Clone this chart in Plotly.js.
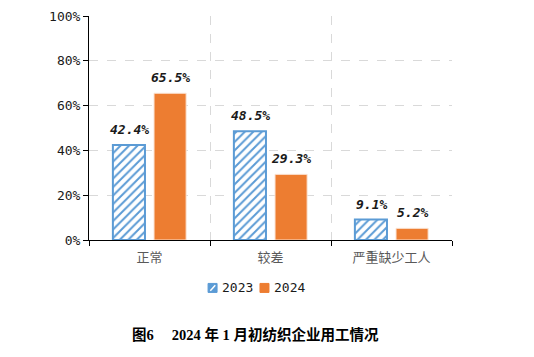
<!DOCTYPE html>
<html>
<head>
<meta charset="utf-8">
<script src="https://cdn.plot.ly/plotly-3.0.1.min.js"></script>
<style>html,body{margin:0;padding:0;background:#fff;}#chart{width:534px;height:357px;}</style>
</head>
<body>
<div id="chart"></div>
<script>
const categories = ['正常', '较差', '严重缺少工人'];
const values2023 = [42.4, 48.5, 9.1];
const values2024 = [65.5, 29.3, 5.2];
const seriesNames = ['2023', '2024'];
const yTickVals = [0, 20, 40, 60, 80, 100];
const yTickText = ['0%', '20%', '40%', '60%', '80%', '100%'];
const captionText = '图6　 2024 年 1 月初纺织企业用工情况';

const monoFont = 'DejaVu Sans Mono, monospace';
const blue = '#5B9BD5';
const orange = '#ED7D31';
const labelFont = {family: monoFont, size: 13, color: '#1a1a1a', weight: 'bold', style: 'italic'};

const traces = [
  {
    type: 'bar', name: seriesNames[0], x: categories, y: values2023,
    marker: {
      color: '#ffffff',
      line: {color: blue, width: 2},
      pattern: {shape: '/', fgcolor: blue, bgcolor: '#ffffff', size: 6, solidity: 0.33}
    },
    hoverinfo: 'skip', showlegend: false
  },
  {
    type: 'bar', name: seriesNames[1], x: categories, y: values2024,
    marker: {color: orange, line: {color: '#fbe3d3', width: 1}},
    hoverinfo: 'skip', showlegend: false
  }
];

// value labels built from the data arrays
const annotations = [];
[values2023, values2024].forEach((vals, s) => {
  vals.forEach((v, i) => {
    annotations.push({
      xref: 'x', yref: 'y', x: categories[i], y: v,
      xshift: s === 0 ? -20.5 : 20.5, yshift: 6,
      xanchor: 'center', yanchor: 'bottom', showarrow: false,
      text: v.toFixed(1) + '%', font: labelFont
    });
  });
});

// legend (custom, compact)
const legendY = -0.214;
const legendItems = [
  {x0: 0.328, name: seriesNames[0], type: 'pattern'},
  {x0: 0.471, name: seriesNames[1], type: 'solid'}
];
const shapes = [];
legendItems.forEach(item => {
  const sw = 9 / 363, sh = 9 / 224;
  if (item.type === 'pattern') {
    shapes.push({type: 'rect', xref: 'paper', yref: 'paper', x0: item.x0, x1: item.x0 + sw,
      y0: legendY - sh / 2, y1: legendY + sh / 2, fillcolor: blue, line: {color: blue, width: 1}});
    shapes.push({type: 'line', xref: 'paper', yref: 'paper', x0: item.x0 + sw * 0.25, x1: item.x0 + sw * 0.8,
      y0: legendY - sh * 0.3, y1: legendY + sh * 0.3, line: {color: '#ffffff', width: 1.5}});
  } else {
    shapes.push({type: 'rect', xref: 'paper', yref: 'paper', x0: item.x0, x1: item.x0 + sw,
      y0: legendY - sh / 2, y1: legendY + sh / 2, fillcolor: orange, line: {color: orange, width: 1}});
  }
  annotations.push({
    xref: 'paper', yref: 'paper', x: item.x0 + 12 / 363, y: legendY, xanchor: 'left', yanchor: 'middle',
    text: item.name, showarrow: false, font: {family: monoFont, size: 13, color: '#1a1a1a'}
  });
});

annotations.push({
  xref: 'paper', yref: 'paper', x: 0.113, y: -0.424, xanchor: 'left', yanchor: 'middle',
  text: '<b>' + captionText + '</b>', showarrow: false,
  font: {family: 'Liberation Serif, Noto Sans CJK SC', size: 14.5, color: '#000000'}
});

const layout = {
  width: 534, height: 357,
  margin: {l: 89, r: 82, t: 16, b: 117},
  paper_bgcolor: '#ffffff', plot_bgcolor: '#ffffff',
  barmode: 'group', bargap: 0.32, bargroupgap: 0.22,
  showlegend: false,
  xaxis: {
    type: 'category', tickson: 'boundaries',
    showline: true, linecolor: '#000000', linewidth: 1,
    ticks: 'outside', ticklen: 5, tickcolor: '#000000',
    showgrid: true, gridcolor: '#d9d9d9', griddash: 'dash', gridwidth: 1,
    tickfont: {family: 'Liberation Serif, Noto Sans CJK SC', size: 13, color: '#595959'},
    ticklabelstandoff: 5,
    zeroline: false, fixedrange: true
  },
  yaxis: {
    range: [0, 100], tickvals: yTickVals, ticktext: yTickText,
    showline: true, linecolor: '#000000', linewidth: 1,
    ticks: 'outside', ticklen: 5, tickcolor: '#000000',
    showgrid: true, gridcolor: '#d9d9d9', griddash: 'dash', gridwidth: 1,
    tickfont: {family: monoFont, size: 13, color: '#1a1a1a'},
    zeroline: false, fixedrange: true
  },
  shapes: shapes,
  annotations: annotations
};

Plotly.newPlot('chart', traces, layout, {staticPlot: true, displayModeBar: false});
</script>
</body>
</html>
